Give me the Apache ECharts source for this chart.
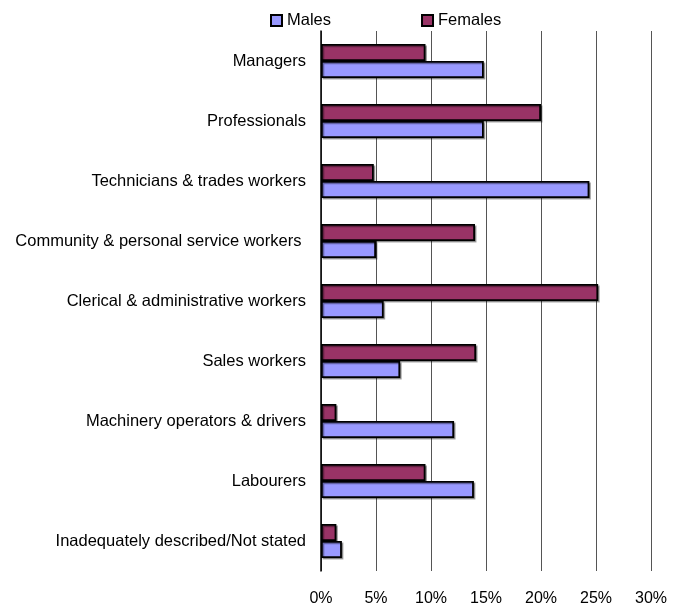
<!DOCTYPE html>
<html>
<head>
<meta charset="utf-8">
<script src="https://cdn.jsdelivr.net/npm/echarts@6/dist/echarts.min.js"></script>
<style>
    html, body { margin: 0; padding: 0; background: #fff; }
    #main { width: 685px; height: 607px; }
</style>
</head>
<body>
<div id="main"></div>
<script>
// occupation groups, top to bottom
var categories = [
    'Managers',
    'Professionals',
    'Technicians & trades workers',
    'Community & personal service workers ',
    'Clerical & administrative workers',
    'Sales workers',
    'Machinery operators & drivers',
    'Labourers',
    'Inadequately described/Not stated'
];
// percent of employed persons
var females = [9.5, 20.0, 4.8, 14.0, 25.2, 14.1, 1.4, 9.5, 1.4];
var males = [14.8, 14.8, 24.4, 5.0, 5.7, 7.2, 12.1, 13.9, 1.9];
var xTicks = [0, 5, 10, 15, 20, 25, 30];

var chart = echarts.init(document.getElementById('main'));

var barStyle = function (color) {
    return {
        color: color,
        borderColor: '#000',
        borderWidth: 1.8,
        shadowColor: 'rgba(0,0,0,0.35)',
        shadowOffsetX: 1.5,
        shadowOffsetY: 1.5
    };
};

var option = {
    animation: false,
    textStyle: { fontFamily: 'Liberation Sans, Arial, sans-serif' },
    legend: {
        data: ['Males', 'Females'],
        top: 7,
        left: 265,
        itemGap: 90,
        itemWidth: 11,
        itemHeight: 11,
        icon: 'rect',
        textStyle: { fontSize: 16.5, color: '#000', fontFamily: 'Liberation Sans, Arial, sans-serif' }
    },
    grid: {
        left: 321,
        right: 34,
        top: 31,
        bottom: 33,
        containLabel: false
    },
    xAxis: {
        type: 'value',
        min: xTicks[0],
        max: xTicks[xTicks.length - 1],
        interval: 5,
        axisLine: { show: false },
        axisTick: { show: false },
        splitLine: { show: true, lineStyle: { color: '#555', width: 1 } },
        axisLabel: {
            color: '#000',
            fontSize: 16,
            margin: 20,
            formatter: function (v) { return v + '%'; }
        }
    },
    yAxis: {
        type: 'category',
        inverse: true,
        data: categories,
        axisLine: { show: true, lineStyle: { color: '#000', width: 1.5 } },
        axisTick: { show: false },
        axisLabel: { color: '#000', fontSize: 16.5, margin: 15, padding: [4, 0, 0, 0] }
    },
    series: [
        {
            name: 'Females',
            type: 'bar',
            data: females,
            barWidth: 17,
            barGap: '0%',
            itemStyle: barStyle('#993366')
        },
        {
            name: 'Males',
            type: 'bar',
            data: males,
            barWidth: 17,
            barGap: '0%',
            itemStyle: barStyle('#9999ff')
        }
    ]
};

chart.setOption(option);
</script>
</body>
</html>
